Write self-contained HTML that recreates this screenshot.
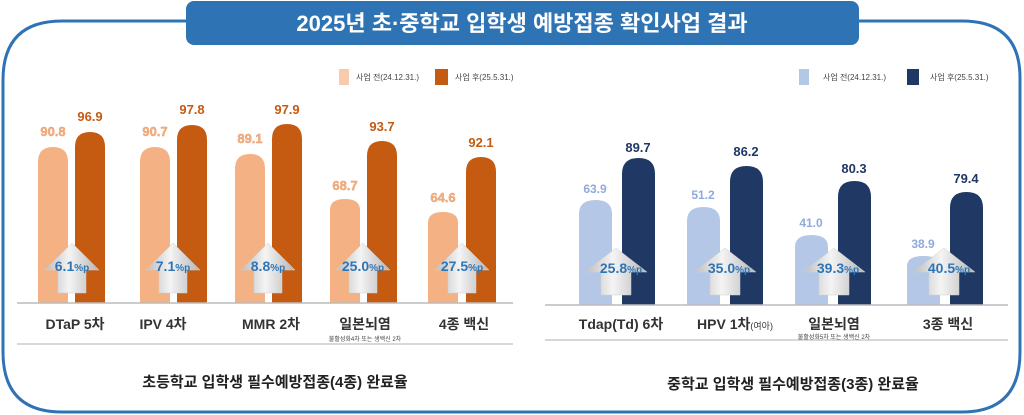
<!DOCTYPE html>
<html><head><meta charset="utf-8"><style>
html,body{margin:0;padding:0;background:#fff;width:1024px;height:415px;overflow:hidden}
svg text{font-family:"Liberation Sans","Noto Sans CJK KR",sans-serif}
</style></head><body>
<svg width="1024" height="415" viewBox="0 0 1024 415" xmlns="http://www.w3.org/2000/svg">
<defs>
<linearGradient id="ag" x1="0" x2="1" y1="0" y2="0">
<stop offset="0" stop-color="#bdbdbd"/><stop offset="0.45" stop-color="#f4f4f4"/><stop offset="1" stop-color="#b5b5b5"/>
</linearGradient>
</defs>
<path d="M190,21 H62 Q3,21 3,80 V352 Q3,412 62,412 H962 Q1020,412 1020,352 V78 Q1020,21 962,21 H855" fill="none" stroke="#2e74b5" stroke-width="3"/>
<rect x="186" y="1" width="673" height="44" rx="8" fill="#2e74b5"/>
<text x="522" y="31" text-anchor="middle" fill="#fff" font-size="22" font-weight="bold">2025년 초·중학교 입학생 예방접종 확인사업 결과</text>

<rect x="339" y="69" width="10" height="16" fill="#f8cbad"/>
<text x="356" y="80" font-size="8" fill="#444">사업 전(24.12.31.)</text>
<rect x="435" y="69" width="13" height="16" fill="#c55a11"/>
<text x="455" y="80" font-size="8" fill="#444">사업 후(25.5.31.)</text>
<rect x="799" y="69" width="10" height="16" fill="#b4c7e7"/>
<text x="823" y="80" font-size="8" fill="#444">사업 전(24.12.31.)</text>
<rect x="907" y="69" width="12" height="16" fill="#203864"/>
<text x="930" y="80" font-size="8" fill="#444">사업 후(25.5.31.)</text>

<g fill="#f4b183">
<path d="M38,303 V162 Q38,147 53,147 Q68,147 68,162 V303Z"/>
<path d="M140,303 V162 Q140,147 155,147 Q170,147 170,162 V303Z"/>
<path d="M235,303 V169 Q235,154 250,154 Q265,154 265,169 V303Z"/>
<path d="M330,303 V210 Q330,199 345,199 Q360,199 360,210 V303Z"/>
<path d="M428,303 V223 Q428,212 443,212 Q458,212 458,223 V303Z"/>
</g>
<g fill="#c55a11">
<path d="M75,303 V147 Q75,132 90,132 Q105,132 105,147 V303Z"/>
<path d="M177,303 V140 Q177,125 192,125 Q207,125 207,140 V303Z"/>
<path d="M272,303 V139 Q272,124 287,124 Q302,124 302,139 V303Z"/>
<path d="M367,303 V156 Q367,141 382,141 Q397,141 397,156 V303Z"/>
<path d="M466,303 V172 Q466,157 481,157 Q496,157 496,172 V303Z"/>
</g>
<g font-size="13" font-weight="bold" text-anchor="middle" fill="#f4b183" stroke="#e59a6a" stroke-width="0.4">
<text x="53" y="136">90.8</text><text x="155" y="136">90.7</text><text x="250" y="143">89.1</text><text x="345" y="190">68.7</text><text x="443" y="202">64.6</text>
</g>
<g font-size="13" font-weight="bold" text-anchor="middle" fill="#c55a11">
<text x="90" y="121">96.9</text><text x="192" y="114">97.8</text><text x="287" y="114">97.9</text><text x="382" y="131">93.7</text><text x="481" y="147">92.1</text>
</g>
<line x1="17" y1="303" x2="513" y2="303" stroke="#bbb" stroke-width="1.5"/>
<line x1="17" y1="344" x2="513" y2="344" stroke="#ccc" stroke-width="1.5"/>

<g fill="#b4c7e7">
<path d="M579,305 V214 Q579,200 595.5,200 Q612,200 612,214 V305Z"/>
<path d="M687,305 V221 Q687,207 703.5,207 Q720,207 720,221 V305Z"/>
<path d="M795,305 V247 Q795,235 811.5,235 Q828,235 828,247 V305Z"/>
<path d="M907,305 V266 Q907,256 923.5,256 Q940,256 940,266 V305Z"/>
</g>
<g fill="#203864">
<path d="M622,305 V174 Q622,158 638.5,158 Q655,158 655,174 V305Z"/>
<path d="M730,305 V182 Q730,166 746.5,166 Q763,166 763,182 V305Z"/>
<path d="M838,305 V197 Q838,181 854.5,181 Q871,181 871,197 V305Z"/>
<path d="M950,305 V208 Q950,192 966.5,192 Q983,192 983,208 V305Z"/>
</g>
<g font-size="12" font-weight="bold" text-anchor="middle" fill="#8faadc">
<text x="595" y="193">63.9</text><text x="703" y="199">51.2</text><text x="811" y="227">41.0</text><text x="923" y="248">38.9</text>
</g>
<g font-size="13" font-weight="bold" text-anchor="middle" fill="#203864">
<text x="638" y="152">89.7</text><text x="746" y="156">86.2</text><text x="854" y="173">80.3</text><text x="966" y="183">79.4</text>
</g>
<line x1="545" y1="305" x2="1008" y2="305" stroke="#bbb" stroke-width="1.5"/>
<line x1="545" y1="340" x2="1008" y2="340" stroke="#ccc" stroke-width="1.5"/>

<g fill="url(#ag)" stroke="#d0d0d0" stroke-width="0.5">
<polygon points="45,270 72,243 99,270 86,270 86,293 58,293 58,270"/>
<polygon points="146,270 173,243 200,270 187,270 187,293 159,293 159,270"/>
<polygon points="241,270 268,243 295,270 282,270 282,293 254,293 254,270"/>
<polygon points="336,270 363,243 390,270 377,270 377,293 349,293 349,270"/>
<polygon points="435,270 462,243 489,270 476,270 476,293 448,293 448,270"/>
<polygon points="585,272 616,248 647,272 631,272 631,295 601,295 601,272"/>
<polygon points="694,272 725,248 756,272 740,272 740,295 710,295 710,272"/>
<polygon points="803,272 834,248 865,272 849,272 849,295 819,295 819,272"/>
<polygon points="913,272 944,248 975,272 959,272 959,295 929,295 929,272"/>
</g>
<g font-weight="bold" fill="#2e75b6" text-anchor="middle">
<text x="72" y="271" font-size="14">6.1<tspan font-size="10">%p</tspan></text>
<text x="173" y="271" font-size="14">7.1<tspan font-size="10">%p</tspan></text>
<text x="268" y="271" font-size="14">8.8<tspan font-size="10">%p</tspan></text>
<text x="363" y="271" font-size="14">25.0<tspan font-size="10">%p</tspan></text>
<text x="462" y="271" font-size="14">27.5<tspan font-size="10">%p</tspan></text>
<text x="621" y="273" font-size="14">25.8<tspan font-size="10">%p</tspan></text>
<text x="729" y="273" font-size="14">35.0<tspan font-size="10">%p</tspan></text>
<text x="838" y="273" font-size="14">39.3<tspan font-size="10">%p</tspan></text>
<text x="949" y="273" font-size="14">40.5<tspan font-size="10">%p</tspan></text>
</g>

<g font-size="14" font-weight="bold" fill="#333" text-anchor="middle">
<text x="75" y="329">DTaP 5차</text><text x="163" y="329">IPV 4차</text><text x="271" y="329">MMR 2차</text><text x="365" y="329">일본뇌염</text><text x="464" y="329">4종 백신</text>
<text x="621" y="329">Tdap(Td) 6차</text><text x="735" y="329">HPV 1차<tspan font-size="9" font-weight="normal">(여아)</tspan></text><text x="834" y="329">일본뇌염</text><text x="948" y="329">3종 백신</text>
</g>
<text x="365" y="341" font-size="6" fill="#444" text-anchor="middle">불활성화4차 또는 생백신 2차</text>
<text x="834" y="339" font-size="6" fill="#444" text-anchor="middle">불활성화5차 또는 생백신 2차</text>
<text x="275" y="387" font-size="15" font-weight="bold" fill="#222" text-anchor="middle">초등학교 입학생 필수예방접종(4종) 완료율</text>
<text x="793" y="389" font-size="15" font-weight="bold" fill="#222" text-anchor="middle">중학교 입학생 필수예방접종(3종) 완료율</text>
</svg>
</body></html>
